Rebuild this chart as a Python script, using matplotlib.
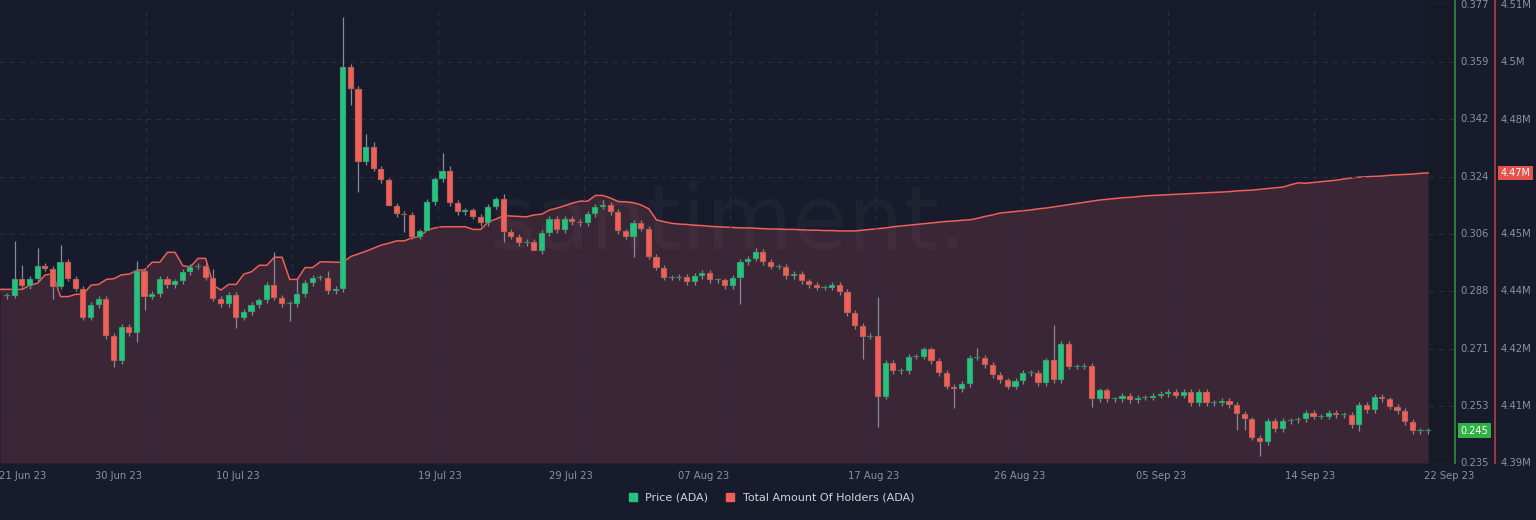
import numpy as np
import matplotlib.pyplot as plt
from matplotlib.lines import Line2D
import matplotlib.transforms as mtransforms

# ---------------- datos (velas de 12h, 21 Jun -> 22 Sep 2023) ----------------
close = [0.2868, 0.2921, 0.2899, 0.2921, 0.2961, 0.2952, 0.2896, 0.2973, 0.2921, 0.2890,
         0.2800, 0.2840, 0.2859, 0.2744, 0.2666, 0.2772, 0.2753, 0.2945, 0.2865, 0.2874,
         0.2921, 0.2902, 0.2914, 0.2942, 0.2958, 0.2961, 0.2924, 0.2859, 0.2843, 0.2871,
         0.2800, 0.2818, 0.2840, 0.2855, 0.2902, 0.2862, 0.2843, 0.2843, 0.2874, 0.2908,
         0.2924, 0.2924, 0.2883, 0.2890, 0.3578, 0.3510, 0.3283, 0.3330, 0.3262, 0.3227,
         0.3147, 0.3122, 0.3119, 0.3051, 0.3069, 0.3159, 0.3230, 0.3255, 0.3156, 0.3128,
         0.3134, 0.3113, 0.3094, 0.3144, 0.3168, 0.3066, 0.3051, 0.3032, 0.3035, 0.3007,
         0.3063, 0.3107, 0.3072, 0.3107, 0.3097, 0.3094, 0.3122, 0.3144, 0.3150, 0.3128,
         0.3069, 0.3051, 0.3094, 0.3076, 0.2989, 0.2955, 0.2924, 0.2924, 0.2927, 0.2911,
         0.2930, 0.2939, 0.2917, 0.2917, 0.2899, 0.2924, 0.2973, 0.2983, 0.3004, 0.2973,
         0.2958, 0.2958, 0.2930, 0.2936, 0.2914, 0.2902, 0.2893, 0.2893, 0.2902, 0.2880,
         0.2815, 0.2775, 0.2741, 0.2744, 0.2555, 0.2660, 0.2635, 0.2635, 0.2679, 0.2679,
         0.2703, 0.2666, 0.2629, 0.2586, 0.2579, 0.2595, 0.2676, 0.2676, 0.2654, 0.2623,
         0.2607, 0.2586, 0.2604, 0.2629, 0.2629, 0.2598, 0.2669, 0.2607, 0.2719, 0.2648,
         0.2648, 0.2651, 0.2548, 0.2576, 0.2548, 0.2548, 0.2558, 0.2545, 0.2552, 0.2552,
         0.2558, 0.2564, 0.2570, 0.2558, 0.2570, 0.2536, 0.2570, 0.2536, 0.2536, 0.2542,
         0.2530, 0.2502, 0.2486, 0.2428, 0.2415, 0.2480, 0.2455, 0.2480, 0.2483, 0.2486,
         0.2505, 0.2493, 0.2493, 0.2505, 0.2499, 0.2499, 0.2468, 0.2530, 0.2514, 0.2555,
         0.2548, 0.2524, 0.2511, 0.2477, 0.2449, 0.2449, 0.2450]
open_0 = 0.2868

# mechas destacadas: indice -> (maximo, minimo)
wicks = {1: (0.3038, 0.2861), 2: (0.2964, None), 4: (0.3017, None), 6: (None, 0.2859),
         7: (0.3026, None), 14: (None, 0.2648), 17: (0.2976, 0.2725), 18: (None, 0.2824),
         27: (0.2951, None), 30: (None, 0.2768), 35: (0.3004, None), 37: (None, 0.2790),
         38: (0.2921, None), 42: (0.2945, None), 44: (0.3733, 0.2880), 45: (None, 0.3460),
         46: (None, 0.3190), 47: (0.3370, None), 48: (0.3345, None), 50: (None, 0.3190),
         52: (None, 0.3066), 55: (None, 0.3113), 57: (0.3311, None), 58: (0.3271, None),
         65: (0.3184, 0.3035), 69: (None, 0.3010), 78: (0.3166, None), 82: (None, 0.2989),
         96: (None, 0.2843), 98: (0.3017, None), 112: (None, 0.2672), 114: (0.2865, 0.2462),
         124: (None, 0.2521), 127: (0.2707, None), 137: (0.2778, None), 142: (None, 0.2524),
         161: (None, 0.2452), 162: (None, 0.2452), 164: (None, 0.2372), 177: (None, 0.2449)}

# total de holders (miles)
holders = [4435.5, 4435.5, 4435.5, 4436.6, 4437.1, 4439.3, 4439.5, 4433.6, 4433.6, 4434.2,
           4434.2, 4436.6, 4436.8, 4438.1, 4438.3, 4439.3, 4439.5, 4440.5, 4440.6, 4442.6,
           4442.6, 4445.2, 4445.2, 4441.7, 4441.4, 4443.6, 4443.6, 4436.6, 4435.3, 4436.8,
           4436.8, 4439.5, 4440.1, 4441.8, 4441.8, 4443.9, 4443.9, 4438.1, 4438.1, 4441.2,
           4441.2, 4442.7, 4442.7, 4442.6, 4442.6, 4444.1, 4444.8, 4445.5, 4446.3, 4447.1,
           4447.6, 4448.2, 4448.2, 4449.0, 4449.3, 4451.0, 4451.6, 4451.9, 4451.9, 4451.9,
           4451.9, 4451.2, 4451.2, 4453.2, 4453.9, 4454.8, 4454.7, 4454.6, 4454.5, 4455.0,
           4455.2, 4456.3, 4456.8, 4457.4, 4458.1, 4458.6, 4458.6, 4460.1, 4460.1, 4459.4,
           4458.5, 4458.4, 4458.2, 4457.6, 4456.6, 4453.7, 4453.2, 4452.8, 4452.6,
           4452.5, 4452.3, 4452.2, 4452.0, 4451.9, 4451.8, 4451.7, 4451.6, 4451.6, 4451.5,
           4451.4, 4451.3, 4451.3, 4451.2, 4451.2, 4451.1, 4451.0, 4451.0, 4450.9, 4450.9,
           4450.8, 4450.8, 4450.8,
           4451.0, 4451.2, 4451.4, 4451.6, 4451.9, 4452.1, 4452.3, 4452.5, 4452.7, 4452.9,
           4453.1, 4453.3, 4453.4, 4453.6, 4453.7, 4454.1, 4454.6, 4455.0, 4455.5, 4455.7,
           4455.9, 4456.1, 4456.3, 4456.6, 4456.8, 4457.1, 4457.4, 4457.7, 4458.0, 4458.3,
           4458.6, 4458.9, 4459.1, 4459.3, 4459.5, 4459.6, 4459.8, 4460.0, 4460.1, 4460.2,
           4460.3, 4460.4, 4460.5, 4460.6, 4460.7, 4460.8, 4460.9, 4461.0, 4461.1, 4461.3,
           4461.4, 4461.5, 4461.7, 4461.9, 4462.1, 4462.3, 4462.9, 4463.4, 4463.3, 4463.5,
           4463.7, 4463.9, 4464.1, 4464.4, 4464.7, 4464.9, 4465.0, 4465.1, 4465.2, 4465.4,
           4465.5, 4465.6, 4465.7, 4465.9, 4466.0]

date_labels = ['21 Jun 23', '30 Jun 23', '10 Jul 23', '19 Jul 23', '29 Jul 23',
               '07 Aug 23', '17 Aug 23', '26 Aug 23', '05 Sep 23', '14 Sep 23', '22 Sep 23']
date_pos = [1.0, 7.3, 15.1, 28.3, 36.9, 45.6, 56.7, 66.3, 75.5, 85.3, 94.4]   # dias

price_ticks = ['0.235', '0.253', '0.271', '0.288', '0.306', '0.324', '0.342', '0.359', '0.377']
holder_ticks = ['4.39M', '4.41M', '4.42M', '4.44M', '4.45M', '4.47M', '4.48M', '4.5M', '4.51M']

# ---------------- figura ----------------
BG = '#181b2b'
GREEN = '#26c281'
RED = '#f0605a'
TXT = '#8d909e'

fig = plt.figure(figsize=(15.36, 5.2), dpi=100, facecolor=BG)
ax = fig.add_axes([0, 57/520, 1455/1536, 458/520], facecolor=BG)
ax2 = ax.twinx()

n = len(close)
t = np.arange(n) * 0.5
opens = [open_0] + close[:-1]

x0 = -0.46
ax.set_xlim(x0, 94.76)
ax.set_ylim(0.235, 0.377)
ax2.set_ylim(4390, 4510)

# holders (el area arranca en el borde izquierdo)
th = np.concatenate([[x0], t])
hh = np.concatenate([[holders[0]], holders])
ax2.fill_between(th, hh, 4390, color='#3a2634', zorder=0, lw=0)
ax2.plot(th, hh, color=RED, lw=1.1, zorder=1)
ax2.axvspan(t[-1] + 0.1, 95, color='#161926', zorder=0, lw=0)

# grid
pt = np.linspace(0.235, 0.377, 9)
for y in pt[1:-1]:
    ax.axhline(y, color='#2c3042', lw=0.7, ls=(0, (5, 5)), zorder=0.5)
for k in range(1, 10):
    ax.axvline((146 * k - 7) / 15.28, color='#2c3042', lw=0.7, ls=(0, (5, 5)), zorder=0.5)

# velas encima del area
ax.set_zorder(ax2.get_zorder() + 1)
ax.patch.set_visible(False)
for i in range(n):
    o, c = opens[i], close[i]
    hi, lo = max(o, c) + 0.0008, min(o, c) - 0.0008
    if i in wicks:
        h2, l2 = wicks[i]
        if h2 is not None:
            hi = h2
        if l2 is not None:
            lo = l2
    col = GREEN if c >= o else RED
    ax.vlines(t[i], lo, hi, color='#8a8a9c', lw=0.9, zorder=2)
    body = max(abs(c - o), 0.0004)
    ax.bar(t[i], body, bottom=min(o, c), width=0.4, color=col, zorder=3,
           edgecolor='#3a4a3a', linewidth=0.3)

for a in (ax, ax2):
    for s in a.spines.values():
        s.set_visible(False)
    a.set_yticks([])
ax.set_xticks(date_pos)
ax.set_xticklabels(date_labels, color=TXT, fontsize=7.2)
ax.tick_params(axis='x', length=0, pad=6)

# ejes de la derecha
trp = mtransforms.blended_transform_factory(ax.transAxes, ax.transData)
for y, lab in zip(pt, price_ticks):
    ax.text(1.004, y, lab, transform=trp, color=TXT, fontsize=7.2, va='center', ha='left')
trh = mtransforms.blended_transform_factory(ax2.transAxes, ax2.transData)
for y, lab in zip(np.linspace(4390, 4510, 9), holder_ticks):
    if lab == '4.47M':
        continue
    ax2.text(1.0315, y, lab, transform=trh, color=TXT, fontsize=7.2, va='center', ha='left')

fig.add_artist(Line2D([1455/1536, 1455/1536], [57/520, 1], color='#2f8f3f', lw=1.2))
fig.add_artist(Line2D([1495/1536, 1495/1536], [57/520, 1], color='#b0423f', lw=1.2))

ax.text(1.004, close[-1], '%.3f' % close[-1], transform=trp, color='white', fontsize=7,
        va='center', ha='left', bbox=dict(boxstyle='square,pad=0.25', fc='#2fb344', ec='none'))
ax2.text(1.0315, holders[-1], '4.47M', transform=trh, color='white', fontsize=7,
         va='center', ha='left', bbox=dict(boxstyle='square,pad=0.25', fc='#e5534b', ec='none'))

# marca de agua
ax.text(0.5, 0.52, 'santiment.', transform=ax.transAxes, fontsize=64, color='#ffffff',
        alpha=0.03, ha='center', va='center', zorder=1)

# leyenda
fig.legend(handles=[Line2D([], [], marker='s', ls='', color=GREEN, ms=6),
                    Line2D([], [], marker='s', ls='', color=RED, ms=6)],
           labels=['Price (ADA)', 'Total Amount Of Holders (ADA)'],
           loc='center', bbox_to_anchor=(0.5, 22/520), ncol=2, frameon=False,
           labelcolor='#d0d2da', fontsize=8, handletextpad=0.1, columnspacing=1.0)

fig.savefig('out.png', dpi=100, facecolor=BG)
